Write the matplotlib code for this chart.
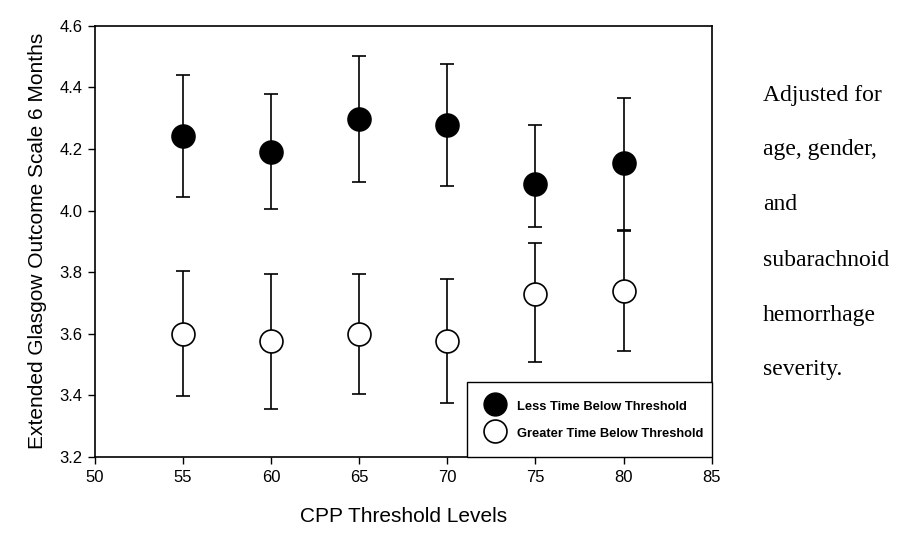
import matplotlib
matplotlib.use("Agg")
import matplotlib.pyplot as plt
from matplotlib.lines import Line2D

thresholds = [55, 60, 65, 70, 75, 80]
less_mean = [4.243, 4.191, 4.297, 4.278, 4.086, 4.154]
less_upper = [4.440, 4.379, 4.503, 4.476, 4.277, 4.365]
less_lower = [4.045, 4.004, 4.094, 4.080, 3.947, 3.938]
greater_mean = [3.600, 3.577, 3.600, 3.578, 3.728, 3.739]
greater_upper = [3.803, 3.794, 3.794, 3.777, 3.896, 3.935]
greater_lower = [3.398, 3.356, 3.406, 3.376, 3.508, 3.543]
x_ticks = [50, 55, 60, 65, 70, 75, 80, 85]
y_ticks = [3.2, 3.4, 3.6, 3.8, 4.0, 4.2, 4.4, 4.6]
note_lines = ["Adjusted for", "age, gender,", "and", "subarachnoid", "hemorrhage", "severity."]

plt.rcParams['font.family'] = ['Liberation Sans', 'DejaVu Sans']

fig = plt.figure(figsize=(9.13, 5.46), dpi=100)
ax = fig.add_axes([0.104, 0.163, 0.6755, 0.790])

MS = 16.5

def errs(m, lo, hi):
    return [[a - b for a, b in zip(m, lo)], [c - a for a, c in zip(m, hi)]]

ax.errorbar(thresholds, greater_mean, yerr=errs(greater_mean, greater_lower, greater_upper),
            fmt='o', ms=MS, mfc='white', mec='black', mew=1.2, ecolor='black',
            elinewidth=1.2, capsize=4.8, capthick=1.2, zorder=3)
ax.errorbar(thresholds, less_mean, yerr=errs(less_mean, less_lower, less_upper),
            fmt='o', ms=MS, mfc='black', mec='black', mew=1.2, ecolor='black',
            elinewidth=1.2, capsize=4.8, capthick=1.2, zorder=3)

ax.set_xlim(50, 85)
ax.set_ylim(3.2, 4.6)
ax.set_xticks(x_ticks)
ax.set_yticks(y_ticks)
ax.set_yticklabels([f"{v:.1f}" for v in y_ticks])
ax.tick_params(direction='out', length=5, width=1.0, labelsize=12, pad=4)
for s in ax.spines.values():
    s.set_linewidth(1.2)

ax.set_xlabel("CPP Threshold Levels", fontsize=15, labelpad=16)
ax.set_ylabel("Extended Glasgow Outcome Scale 6 Months", fontsize=15, labelpad=9)

handles = [Line2D([], [], ls='none', marker='o', ms=MS, mfc='black', mec='black'),
           Line2D([], [], ls='none', marker='o', ms=MS, mfc='white', mec='black', mew=1.2)]
leg = ax.legend(handles, ["Less Time Below Threshold", "Greater Time Below Threshold"],
                loc='lower left', bbox_to_anchor=(0.603, 0.0, 0.397, 0.1746), mode='expand',
                borderaxespad=0, fancybox=False, edgecolor='black', framealpha=1,
                prop={'weight': 'bold', 'size': 9.3}, handletextpad=0.76,
                labelspacing=0.72, borderpad=1.2, handlelength=1.94, handleheight=1.7)
leg.get_frame().set_linewidth(1.0)

for i, line in enumerate(note_lines):
    fig.text(763 / 913, 1 - (95 + i * 55) / 546, line, family='Liberation Serif',
             fontsize=17, va='center', ha='left')

fig.savefig("out.png", dpi=100)
